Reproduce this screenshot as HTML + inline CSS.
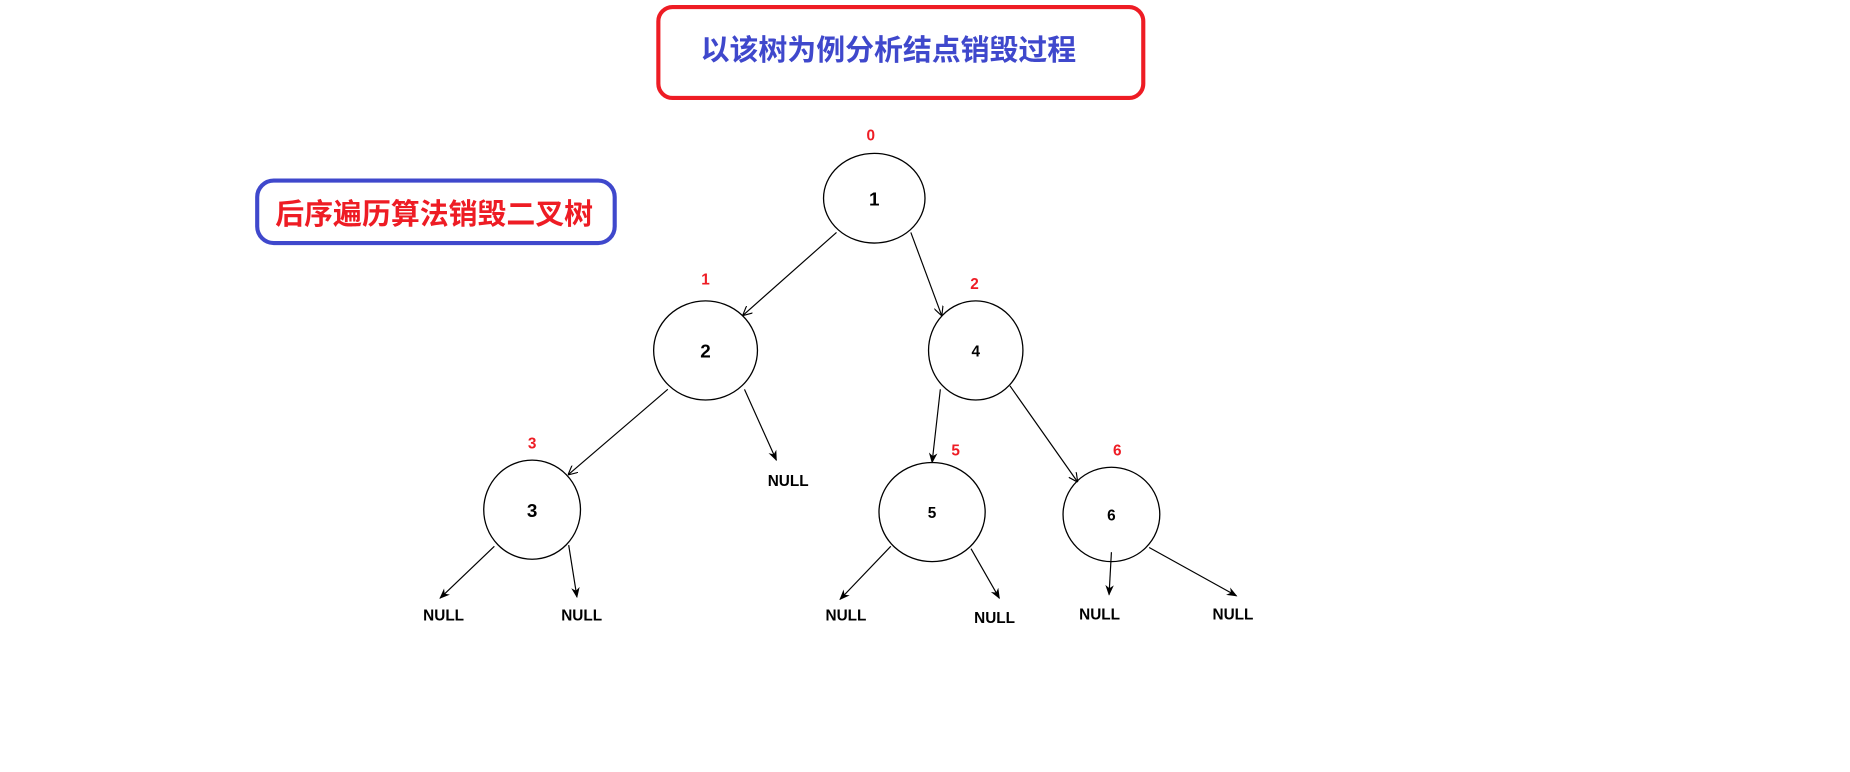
<!DOCTYPE html>
<html><head><meta charset="utf-8"><style>
html,body{margin:0;padding:0;background:#fff;width:1850px;height:772px;overflow:hidden}
svg{display:block}
text{font-family:"Liberation Sans","Noto Sans CJK SC",sans-serif;font-weight:bold}
</style></head><body>
<svg width="1850" height="772" viewBox="0 0 1568 654.3" preserveAspectRatio="none" xmlns="http://www.w3.org/2000/svg">
<defs>
<marker id="a" viewBox="0 0 10 10" refX="9" refY="5" markerWidth="8" markerHeight="8" orient="auto" markerUnits="userSpaceOnUse"><path d="M0,0 L10,5 L0,10" fill="none" stroke="#000" stroke-width="1.2"/></marker>
<marker id="b" viewBox="0 0 10 10" refX="9" refY="5" markerWidth="9" markerHeight="9" orient="auto" markerUnits="userSpaceOnUse"><path d="M0,1 L10,5 L0,9 L3,5Z" fill="#000"/></marker>
</defs>
<rect x="558" y="6" width="411" height="77" rx="12" fill="#fff" stroke="#ee1c24" stroke-width="3.5"/>
<text x="753" y="51" font-size="24.5" fill="#3f48cc" text-anchor="middle">以该树为例分析结点销毁过程</text>
<rect x="218" y="153" width="303" height="53" rx="14" fill="#fff" stroke="#3f48cc" stroke-width="3.5"/>
<text x="368" y="190" font-size="24.5" fill="#ee1c24" text-anchor="middle">后序遍历算法销毁二叉树</text>
<g fill="#fff" stroke="#000" stroke-width="1.1">
<ellipse cx="741" cy="168" rx="43" ry="38"/>
<ellipse cx="598" cy="297" rx="44" ry="42"/>
<ellipse cx="827" cy="297" rx="40" ry="42"/>
<ellipse cx="451" cy="432" rx="41" ry="42"/>
<ellipse cx="790" cy="434" rx="45" ry="42"/>
<ellipse cx="942" cy="436" rx="41" ry="40"/>
</g>
<g stroke="#000" stroke-width="1" fill="none">
<line x1="709" y1="197" x2="630" y2="267" marker-end="url(#a)"/>
<line x1="772" y1="197" x2="798" y2="267" marker-end="url(#a)"/>
<line x1="566" y1="330" x2="482" y2="402" marker-end="url(#a)"/>
<line x1="631" y1="330" x2="658" y2="390" marker-end="url(#b)"/>
<line x1="797" y1="330" x2="790" y2="392" marker-end="url(#b)"/>
<line x1="856" y1="327" x2="913" y2="408" marker-end="url(#a)"/>
<line x1="419" y1="463" x2="373" y2="507" marker-end="url(#b)"/>
<line x1="482" y1="462" x2="489" y2="506" marker-end="url(#b)"/>
<line x1="755" y1="463" x2="712" y2="508" marker-end="url(#b)"/>
<line x1="823" y1="465" x2="847" y2="507" marker-end="url(#b)"/>
<line x1="942" y1="468" x2="940" y2="504" marker-end="url(#b)"/>
<line x1="974" y1="464" x2="1048" y2="505" marker-end="url(#b)"/>
</g>
<g font-size="16" fill="#000" text-anchor="middle">
<text x="741" y="174">1</text>
<text x="598" y="303">2</text>
<text x="827" y="302" font-size="13">4</text>
<text x="451" y="438">3</text>
<text x="790" y="439" font-size="13">5</text>
<text x="942" y="441" font-size="13">6</text>
</g>
<g font-size="13" fill="#ee1c24" text-anchor="middle">
<text x="738" y="119">0</text>
<text x="598" y="241">1</text>
<text x="826" y="245">2</text>
<text x="451" y="380">3</text>
<text x="810" y="386">5</text>
<text x="947" y="386">6</text>
</g>
<g font-size="13" fill="#000" text-anchor="middle">
<text x="668" y="412">NULL</text>
<text x="376" y="526">NULL</text>
<text x="493" y="526">NULL</text>
<text x="717" y="526">NULL</text>
<text x="843" y="528">NULL</text>
<text x="932" y="525">NULL</text>
<text x="1045" y="525">NULL</text>
</g>
</svg>
</body></html>
